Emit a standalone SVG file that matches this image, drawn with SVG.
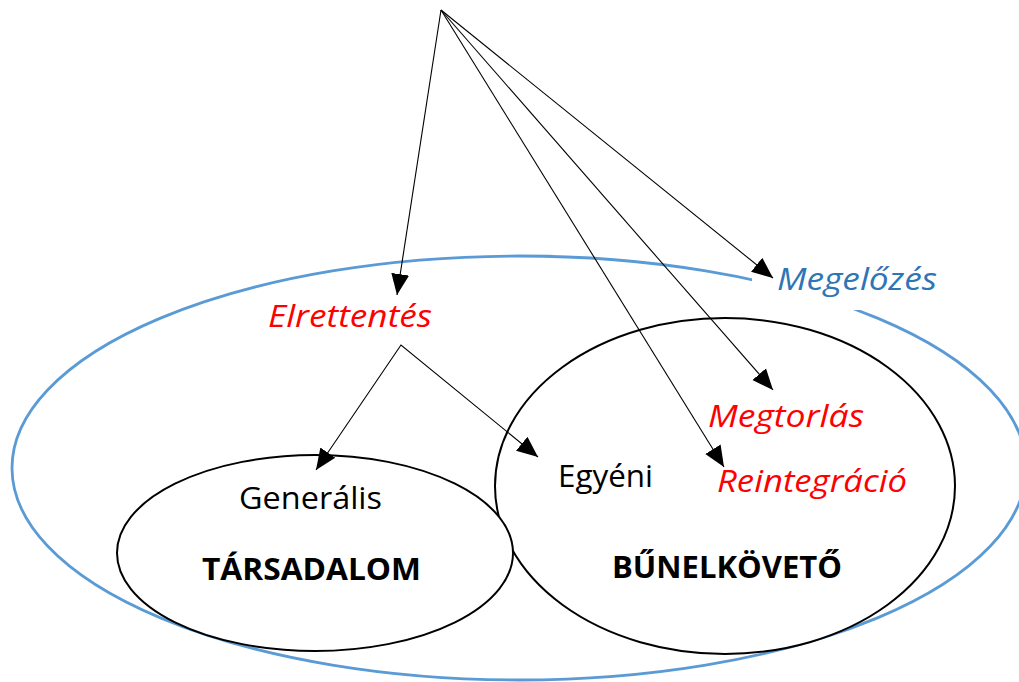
<svg xmlns="http://www.w3.org/2000/svg" width="1019" height="682" viewBox="0 0 1019 682">
<style>
.t{font-family:"Open Sans","Liberation Sans",sans-serif;font-size:31px;}
.it{font-style:italic;}
.red{fill:#FF0000;}
.blue{fill:#2E75B6;}
.blk{fill:#000;}
.b{font-weight:bold;}
.con{stroke:#000;stroke-width:1.1;fill:none;marker-end:url(#ah);}
.ell{fill:#fff;stroke:#000;stroke-width:2;}
</style>
<defs>
<marker id="ah" markerUnits="userSpaceOnUse" markerWidth="22" markerHeight="20" viewBox="0 0 22 20" refX="21" refY="10" orient="auto">
<path d="M0,1 L21,10 L0,19 Z" fill="#000"/>
</marker>
<marker id="ahs" markerUnits="userSpaceOnUse" markerWidth="22" markerHeight="20" viewBox="0 0 22 20" refX="1" refY="10" orient="auto">
<path d="M22,1 L1,10 L22,19 Z" fill="#000"/>
</marker>
</defs>
<rect width="1019" height="682" fill="#fff"/>
<g id="megelozes-ellipse">
<ellipse cx="519" cy="468" rx="507" ry="212" fill="none" stroke="#5B9BD5" stroke-width="2.8"/>
<rect x="752" y="262" width="109" height="48" fill="#fff"/>
</g>
<g id="bunelkoveto">
<ellipse class="ell" cx="725" cy="486" rx="230" ry="168"/>
</g>
<g id="tarsadalom">
<ellipse class="ell" cx="315" cy="553" rx="198" ry="98"/>
</g>
<g id="connectors">
<line class="con" x1="441" y1="10" x2="397" y2="295"/>
<line class="con" x1="441" y1="10" x2="773" y2="278"/>
<line class="con" x1="441" y1="10" x2="773" y2="390"/>
<line class="con" x1="441" y1="10" x2="724" y2="467"/>
<polyline class="con" points="316,470 401,345 538,457" style="marker-end:url(#ah);marker-start:url(#ahs)"/>
</g>
<g id="label-elrettentes"><text class="t it red" x="268" y="327" textLength="164" lengthAdjust="spacingAndGlyphs">Elrettentés</text></g>
<g id="label-megelozes"><text class="t it blue" x="777" y="290" textLength="160" lengthAdjust="spacingAndGlyphs">Megelőzés</text></g>
<g id="label-megtorlas"><text class="t it red" x="708" y="427" textLength="156" lengthAdjust="spacingAndGlyphs">Megtorlás</text></g>
<g id="label-reintegracio"><text class="t it red" x="717" y="492" textLength="190" lengthAdjust="spacingAndGlyphs">Reintegráció</text></g>
<g id="label-generalis"><text class="t blk" x="239" y="509" textLength="143" lengthAdjust="spacingAndGlyphs">Generális</text></g>
<g id="label-egyeni"><text class="t blk" x="558" y="487" textLength="95" lengthAdjust="spacingAndGlyphs">Egyéni</text></g>
<g id="label-tarsadalom"><text class="t b blk" x="202" y="580" textLength="219" lengthAdjust="spacingAndGlyphs">TÁRSADALOM</text></g>
<g id="label-bunelkoveto"><text class="t b blk" x="612" y="578" textLength="230" lengthAdjust="spacingAndGlyphs">BŰNELKÖVETŐ</text></g>
</svg>
